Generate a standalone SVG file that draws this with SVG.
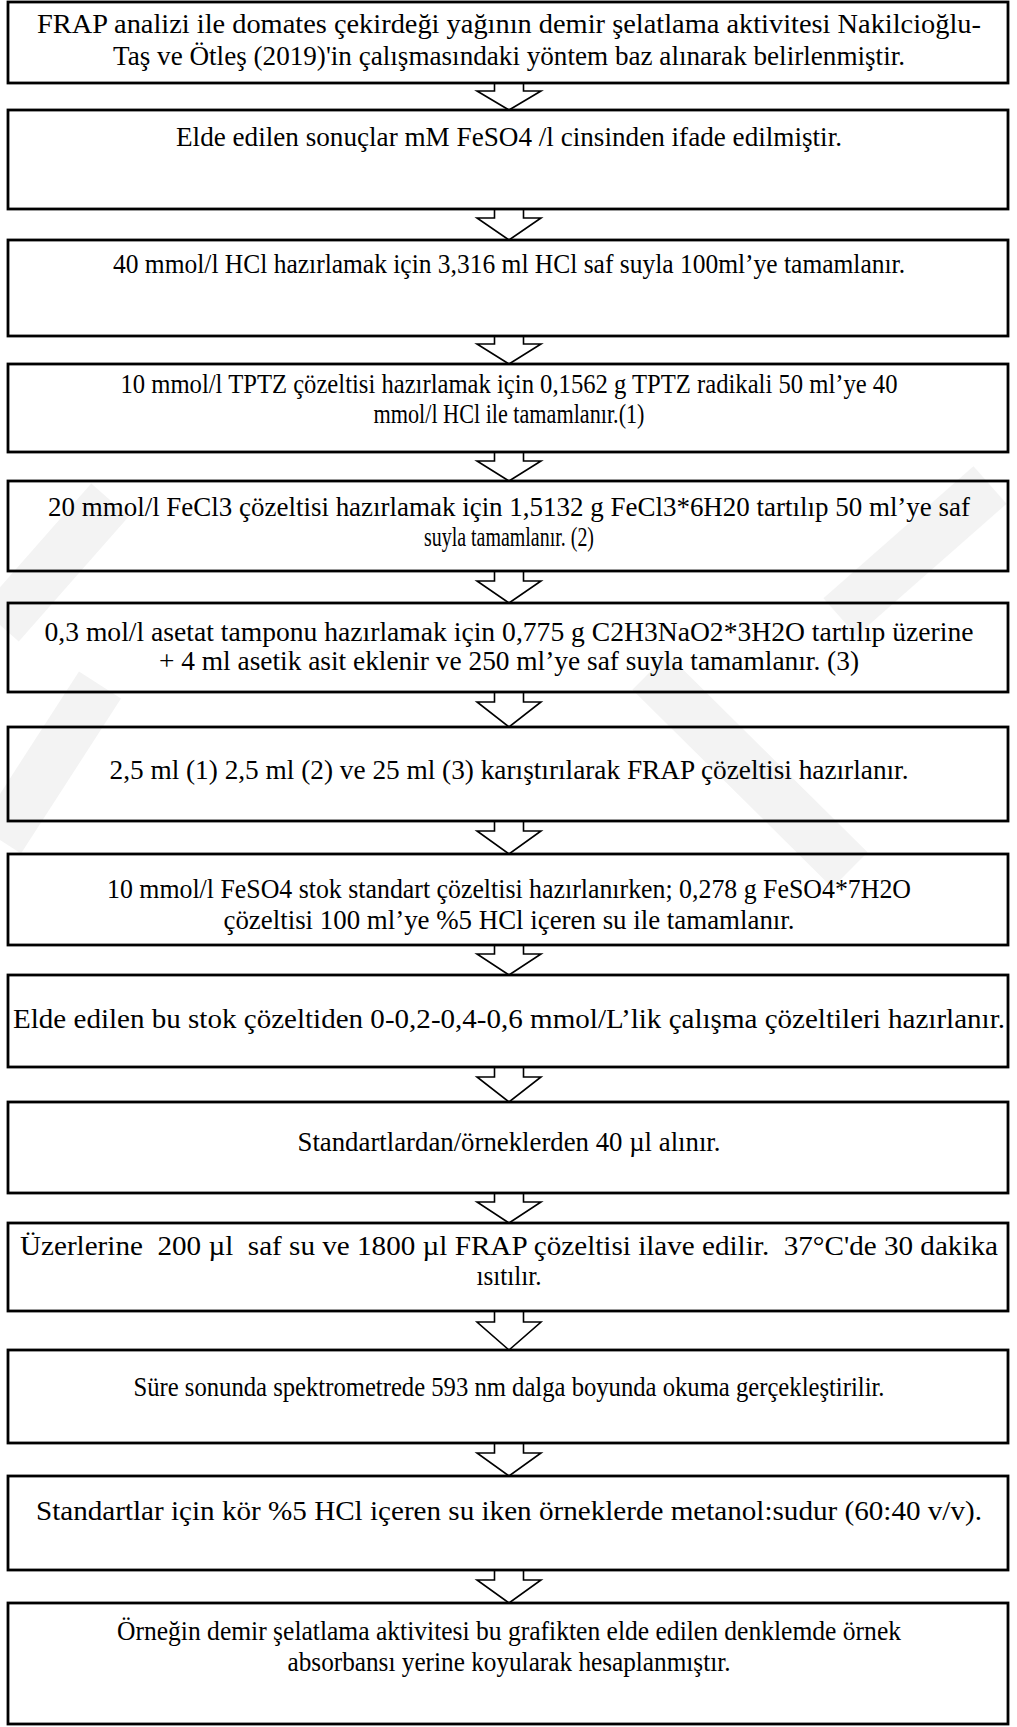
<svg xmlns="http://www.w3.org/2000/svg" width="1017" height="1727" viewBox="0 0 1017 1727">
  <style>
    .box { fill: none; stroke: #000; stroke-width: 2.8; }
    .arrow { fill: #fff; stroke: #000; stroke-width: 1.6; stroke-linejoin: miter; }
    .t { font-family: "Liberation Serif", "Times New Roman", serif; font-size: 28px; fill: #000; text-anchor: middle; }
    .mark { fill: none; stroke: #f3f3f3; stroke-width: 50; stroke-linecap: butt; }
  </style>
  <rect width="1017" height="1727" fill="#fff"/>

  <!-- faint background watermark bands -->
  <g id="watermark">
    <line class="mark" x1="0" y1="625" x2="110" y2="500"/>
    <line class="mark" x1="0" y1="840" x2="100" y2="685"/>
    <line class="mark" x1="650" y1="672" x2="850" y2="870"/>
    <line class="mark" x1="840" y1="617" x2="990" y2="485"/>
  </g>

  <!-- block arrows between steps -->
  <g id="connectors">
    <path class="arrow" d="M494.5,83 V91 H477 L509,110 L541,91 H523.5 V83"/>
    <path class="arrow" d="M494.5,209 V218 H477 L509,240 L541,218 H523.5 V209"/>
    <path class="arrow" d="M494.5,336 V344 H477 L509,364 L541,344 H523.5 V336"/>
    <path class="arrow" d="M494.5,452 V461 H477 L509,481 L541,461 H523.5 V452"/>
    <path class="arrow" d="M494.5,571 V581 H477 L509,603 L541,581 H523.5 V571"/>
    <path class="arrow" d="M494.5,692 V702 H477 L509,727 L541,702 H523.5 V692"/>
    <path class="arrow" d="M494.5,821 V831 H477 L509,854 L541,831 H523.5 V821"/>
    <path class="arrow" d="M494.5,945 V954 H477 L509,975 L541,954 H523.5 V945"/>
    <path class="arrow" d="M494.5,1067 V1077 H477 L509,1102 L541,1077 H523.5 V1067"/>
    <path class="arrow" d="M494.5,1193 V1202 H477 L509,1223 L541,1202 H523.5 V1193"/>
    <path class="arrow" d="M494.5,1311 V1322 H477 L509,1350 L541,1322 H523.5 V1311"/>
    <path class="arrow" d="M494.5,1443 V1453 H477 L509,1476 L541,1453 H523.5 V1443"/>
    <path class="arrow" d="M494.5,1570 V1580 H477 L509,1603 L541,1580 H523.5 V1570"/>
  </g>

  <g id="step1">
    <rect class="box" x="8" y="2" width="1000" height="81"/>
    <text class="t" x="509" y="33" textLength="944" lengthAdjust="spacingAndGlyphs">FRAP analizi ile domates çekirdeği yağının demir şelatlama aktivitesi Nakilcioğlu-</text>
    <text class="t" x="509" y="65" textLength="792" lengthAdjust="spacingAndGlyphs">Taş ve Ötleş (2019)'in çalışmasındaki yöntem baz alınarak belirlenmiştir.</text>
  </g>
  <g id="step2">
    <rect class="box" x="8" y="110" width="1000" height="99"/>
    <text class="t" x="509" y="146" textLength="666" lengthAdjust="spacingAndGlyphs">Elde edilen sonuçlar mM FeSO4 /l cinsinden ifade edilmiştir.</text>
  </g>
  <g id="step3">
    <rect class="box" x="8" y="240" width="1000" height="96"/>
    <text class="t" x="509" y="273" textLength="792" lengthAdjust="spacingAndGlyphs">40 mmol/l HCl hazırlamak için 3,316 ml HCl saf suyla 100ml’ye tamamlanır.</text>
  </g>
  <g id="step4">
    <rect class="box" x="8" y="364" width="1000" height="88"/>
    <text class="t" x="509" y="393" textLength="777" lengthAdjust="spacingAndGlyphs">10 mmol/l TPTZ çözeltisi hazırlamak için 0,1562 g TPTZ radikali 50 ml’ye 40</text>
    <text class="t" x="509" y="423" textLength="271" lengthAdjust="spacingAndGlyphs">mmol/l HCl ile tamamlanır.(1)</text>
  </g>
  <g id="step5">
    <rect class="box" x="8" y="481" width="1000" height="90"/>
    <text class="t" x="509" y="516" textLength="922" lengthAdjust="spacingAndGlyphs">20 mmol/l FeCl3 çözeltisi hazırlamak için 1,5132 g FeCl3*6H20 tartılıp 50 ml’ye saf</text>
    <text class="t" x="509" y="546" textLength="170" lengthAdjust="spacingAndGlyphs">suyla tamamlanır. (2)</text>
  </g>
  <g id="step6">
    <rect class="box" x="8" y="603" width="1000" height="89"/>
    <text class="t" x="509" y="641" textLength="929" lengthAdjust="spacingAndGlyphs">0,3 mol/l asetat tamponu hazırlamak için 0,775 g C2H3NaO2*3H2O tartılıp üzerine</text>
    <text class="t" x="509" y="670" textLength="700" lengthAdjust="spacingAndGlyphs">+ 4 ml asetik asit eklenir ve 250 ml’ye saf suyla tamamlanır. (3)</text>
  </g>
  <g id="step7">
    <rect class="box" x="8" y="727" width="1000" height="94"/>
    <text class="t" x="509" y="779" textLength="799" lengthAdjust="spacingAndGlyphs">2,5 ml (1) 2,5 ml (2) ve 25 ml (3) karıştırılarak FRAP çözeltisi hazırlanır.</text>
  </g>
  <g id="step8">
    <rect class="box" x="8" y="854" width="1000" height="91"/>
    <text class="t" x="509" y="898" textLength="804" lengthAdjust="spacingAndGlyphs">10 mmol/l FeSO4 stok standart çözeltisi hazırlanırken; 0,278 g FeSO4*7H2O</text>
    <text class="t" x="509" y="929" textLength="571" lengthAdjust="spacingAndGlyphs">çözeltisi 100 ml’ye %5 HCl içeren su ile tamamlanır.</text>
  </g>
  <g id="step9">
    <rect class="box" x="8" y="975" width="1000" height="92"/>
    <text class="t" x="509" y="1028" textLength="992" lengthAdjust="spacingAndGlyphs">Elde edilen bu stok çözeltiden 0-0,2-0,4-0,6 mmol/L’lik çalışma çözeltileri hazırlanır.</text>
  </g>
  <g id="step10">
    <rect class="box" x="8" y="1102" width="1000" height="91"/>
    <text class="t" x="509" y="1151" textLength="423" lengthAdjust="spacingAndGlyphs">Standartlardan/örneklerden 40 µl alınır.</text>
  </g>
  <g id="step11">
    <rect class="box" x="8" y="1223" width="1000" height="88"/>
    <text class="t" x="509" y="1255" textLength="978" lengthAdjust="spacingAndGlyphs" xml:space="preserve">Üzerlerine  200 µl  saf su ve 1800 µl FRAP çözeltisi ilave edilir.  37°C'de 30 dakika</text>
    <text class="t" x="509" y="1285" textLength="65" lengthAdjust="spacingAndGlyphs">ısıtılır.</text>
  </g>
  <g id="step12">
    <rect class="box" x="8" y="1350" width="1000" height="93"/>
    <text class="t" x="509" y="1396" textLength="751" lengthAdjust="spacingAndGlyphs">Süre sonunda spektrometrede 593 nm dalga boyunda okuma gerçekleştirilir.</text>
  </g>
  <g id="step13">
    <rect class="box" x="8" y="1476" width="1000" height="94"/>
    <text class="t" x="509" y="1520" textLength="946" lengthAdjust="spacingAndGlyphs">Standartlar için kör %5 HCl içeren su iken örneklerde metanol:sudur (60:40 v/v).</text>
  </g>
  <g id="step14">
    <rect class="box" x="8" y="1603" width="1000" height="121"/>
    <text class="t" x="509" y="1640" textLength="784" lengthAdjust="spacingAndGlyphs">Örneğin demir şelatlama aktivitesi bu grafikten elde edilen denklemde örnek</text>
    <text class="t" x="509" y="1671" textLength="443" lengthAdjust="spacingAndGlyphs">absorbansı yerine koyularak hesaplanmıştır.</text>
  </g>
</svg>
